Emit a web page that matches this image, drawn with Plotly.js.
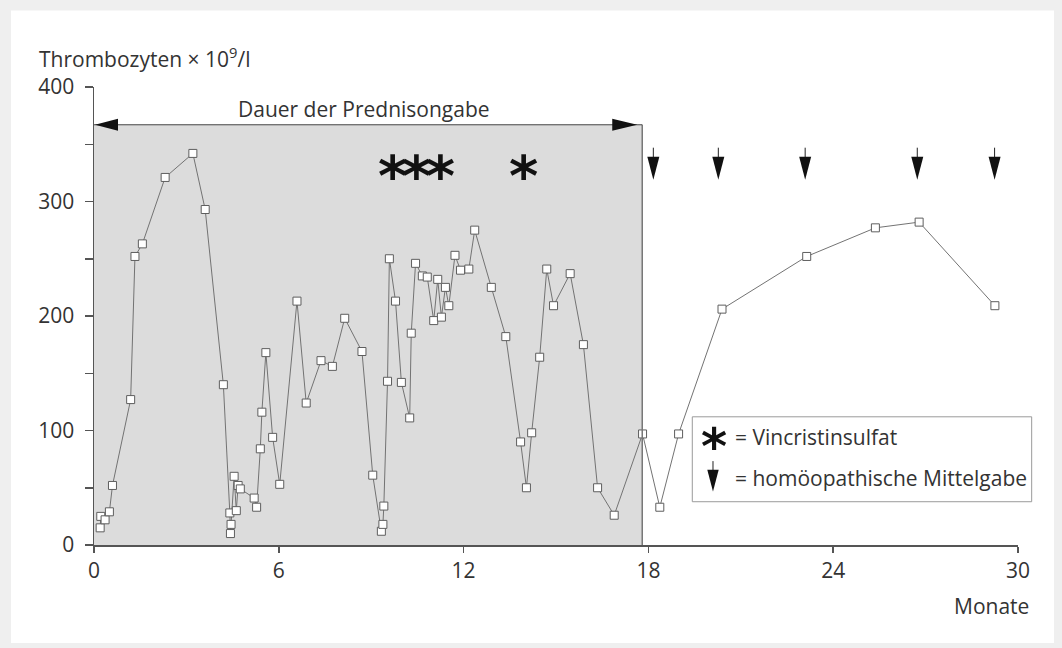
<!DOCTYPE html>
<html>
<head>
<meta charset="utf-8">
<script src="https://cdn.plot.ly/plotly-3.0.1.min.js"></script>
<style>html,body{margin:0;padding:0;background:#efefef;}#chart{width:1062px;height:648px;}</style>
</head>
<body>
<div id="chart"></div>
<script>
// Months since start of therapy
const months = [0.2, 0.22, 0.36, 0.5, 0.6, 1.19, 1.33, 1.57, 2.31, 3.21, 3.61, 4.2,
  4.41, 4.43, 4.45, 4.55, 4.62, 4.68, 4.75, 5.2, 5.28, 5.4, 5.45, 5.58, 5.8, 6.03,
  6.59, 6.89, 7.37, 7.74, 8.14, 8.7, 9.05, 9.33, 9.38, 9.41, 9.53, 9.59, 9.79, 9.98,
  10.25, 10.3, 10.44, 10.66, 10.82, 11.03, 11.16, 11.28, 11.41, 11.52, 11.72, 11.9,
  12.17, 12.36, 12.9, 13.37, 13.85, 14.04, 14.21, 14.47, 14.7, 14.92, 15.46, 15.89,
  16.35, 16.89, 17.81, 18.37, 18.98, 20.39, 23.14, 25.37, 26.79, 29.25];
// Platelets x 10^9/l
const platelets = [15, 25, 22, 29, 52, 127, 252, 263, 321, 342, 293, 140,
  28, 10, 18, 60, 30, 52, 49, 41, 33, 84, 116, 168, 94, 53,
  213, 124, 161, 156, 198, 169, 61, 12, 18, 34, 143, 250, 213, 142,
  111, 185, 246, 235, 234, 196, 232, 199, 225, 209, 253, 240,
  241, 275, 225, 182, 90, 50, 98, 164, 241, 209, 237, 175,
  50, 26, 97, 33, 97, 206, 252, 277, 282, 209];

const prednisoneEnd = 17.8;          // end of prednisone period (months)
const prednisoneTop = 367;           // height of the shaded band (platelet units)
const vincristinMonths = [9.7, 10.47, 11.25, 13.95];
const vincristinLevel = 318;
const homeoMonths = [18.16, 20.27, 23.09, 26.73, 29.24];
const homeoLevel = 347;

const xTickVals = [0, 6, 12, 18, 24, 30];
const xTickText = ['0', '6', '12', '18', '24', '30'];
const yTickVals = [0, 100, 200, 300, 400];
const yTickText = ['0', '100', '200', '300', '400'];
const yMinorTickVals = [50, 150, 250, 350];

const FONT = 'Open Sans, Noto Sans, sans-serif';
const TXT = '#333333';
const AX = '#555555';

const shapes = [];
// white panel on grey page
shapes.push({type:'rect', xref:'paper', yref:'paper', x0:-0.0898, x1:1.039, y0:-0.2138, y1:1.1671,
  fillcolor:'#ffffff', line:{width:0}, layer:'below'});
// prednisone band
shapes.push({type:'rect', xref:'x', yref:'y', x0:0, x1:prednisoneEnd, y0:0, y1:prednisoneTop,
  fillcolor:'#dcdcdc', line:{width:0}, layer:'below'});
shapes.push({type:'line', xref:'x', yref:'y', x0:prednisoneEnd, x1:prednisoneEnd, y0:0, y1:prednisoneTop,
  line:{color:'#777777', width:1.5}});
shapes.push({type:'line', xref:'x', yref:'y', x0:0, x1:prednisoneEnd, y0:prednisoneTop, y1:prednisoneTop,
  line:{color:'#444444', width:1}});
// double arrow heads
shapes.push({type:'path', xref:'x', yref:'y', xsizemode:'pixel', ysizemode:'pixel',
  xanchor:0, yanchor:prednisoneTop, path:'M 1 0 L 24 6 L 24 -6 Z', fillcolor:'#111111', line:{width:0}});
shapes.push({type:'path', xref:'x', yref:'y', xsizemode:'pixel', ysizemode:'pixel',
  xanchor:prednisoneEnd, yanchor:prednisoneTop, path:'M -5 0 L -30 6 L -30 -6 Z', fillcolor:'#111111', line:{width:0}});
// homeopathic arrows
function downArrow(xref, yref, xa, ya, scale) {
  const s = scale || 1;
  shapes.push({type:'path', xref:xref, yref:yref, xsizemode:'pixel', ysizemode:'pixel',
    xanchor:xa, yanchor:ya, path:'M 0 0 L 0 ' + (-10*s), line:{color:'#222222', width:1}});
  shapes.push({type:'path', xref:xref, yref:yref, xsizemode:'pixel', ysizemode:'pixel',
    xanchor:xa, yanchor:ya, path:'M ' + (-6*s) + ' ' + (-9*s) + ' L ' + (6*s) + ' ' + (-9*s) + ' L 0 ' + (-32*s) + ' Z',
    fillcolor:'#111111', line:{width:0}});
}
homeoMonths.forEach(m => downArrow('x', 'y', m, homeoLevel, 1));
// legend box
shapes.push({type:'rect', xref:'paper', yref:'paper', x0:0.6475, x1:1.0148, y0:0.0945, y1:0.2799,
  fillcolor:'rgba(255,255,255,0)', line:{color:'#9a9a9a', width:1}});
downArrow('paper', 'paper', 0.6699, 0.1832, 0.95);

const annotations = [
  {xref:'paper', yref:'paper', x:-0.0617, y:1.0646, xanchor:'left', yanchor:'middle', showarrow:false,
   text:'Thrombozyten × 10<sup>9</sup>/l', font:{family:FONT, size:21, color:TXT}},
  {xref:'paper', yref:'paper', x:1.014, y:-0.133, xanchor:'right', yanchor:'middle', showarrow:false,
   text:'Monate', font:{family:FONT, size:21, color:TXT}},
  {xref:'x', yref:'y', x:prednisoneEnd/2 - 0.15, y:381, xanchor:'center', yanchor:'middle', showarrow:false,
   text:'Dauer der Prednisongabe', font:{family:FONT, size:21, color:TXT}},
  {xref:'paper', yref:'paper', x:0.6916, y:0.2356, xanchor:'left', yanchor:'middle', showarrow:false,
   text:'= Vincristinsulfat', font:{family:FONT, size:21, color:TXT}},
  {xref:'paper', yref:'paper', x:0.6916, y:0.1462, xanchor:'left', yanchor:'middle', showarrow:false,
   text:'= homöopathische Mittelgabe', font:{family:FONT, size:21, color:TXT}},
  {xref:'paper', yref:'paper', x:0.6705, y:0.2356, xanchor:'center', yanchor:'middle', showarrow:false, yshift:-10,
   text:'*', font:{family:'DejaVu Sans', size:50, color:'#111111', weight:'bold'}}
];

const traces = [
  {type:'scatter', mode:'lines+markers', x:months, y:platelets,
   line:{color:'#737373', width:1},
   marker:{symbol:'square', size:8, color:'#ffffff', line:{color:'#5e5e5e', width:1}},
   hoverinfo:'x+y', showlegend:false},
  {type:'scatter', mode:'text', x:vincristinMonths, y:vincristinMonths.map(() => vincristinLevel),
   text:vincristinMonths.map(() => '*'), textposition:'middle center',
   textfont:{family:'DejaVu Sans', size:56, color:'#111111', weight:'bold'}, hoverinfo:'skip', showlegend:false}
];

const layout = {
  width:1062, height:648,
  margin:{l:94, r:44, t:87, b:103},
  paper_bgcolor:'#efefef', plot_bgcolor:'rgba(0,0,0,0)',
  showlegend:false,
  xaxis:{range:[0,30], tickvals:xTickVals, ticktext:xTickText, showgrid:false, zeroline:false,
    showline:true, linecolor:AX, linewidth:1.5, ticks:'outside', ticklen:6, tickcolor:AX, tickwidth:1.5,
    tickfont:{family:FONT, size:21, color:TXT}, fixedrange:true},
  yaxis:{range:[0,400], tickvals:yTickVals, ticktext:yTickText, showgrid:false, zeroline:false,
    showline:true, linecolor:AX, linewidth:1.5, ticks:'outside', ticklen:8, tickcolor:AX, tickwidth:1.5,
    minor:{tickvals:yMinorTickVals, ticks:'outside', ticklen:8, tickcolor:AX, tickwidth:1.5, showgrid:false},
    tickfont:{family:FONT, size:21, color:TXT}, ticklabelstandoff:6, fixedrange:true},
  shapes:shapes,
  annotations:annotations
};

Plotly.newPlot('chart', traces, layout, {displayModeBar:false, staticPlot:true});
</script>
</body>
</html>
